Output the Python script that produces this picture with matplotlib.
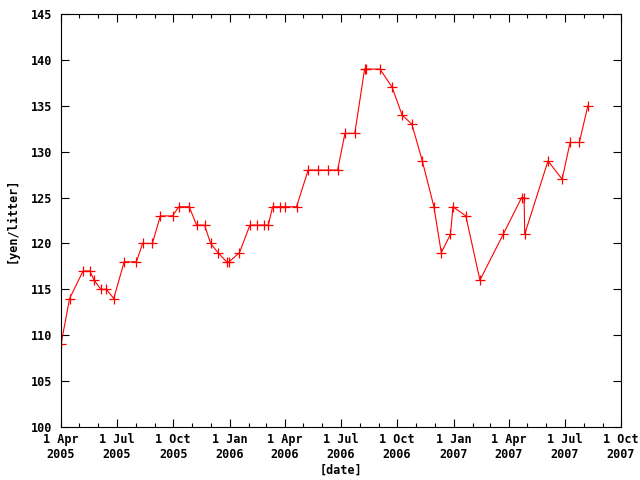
import matplotlib
matplotlib.use("Agg")
import matplotlib.pyplot as plt
import matplotlib.dates as mdates
import numpy as np
import datetime as dt

# gasoline price samples
dates = [
    "2005-04-01", "2005-04-15", "2005-05-07", "2005-05-18", "2005-05-25",
    "2005-06-05", "2005-06-14", "2005-06-26", "2005-07-13", "2005-08-02",
    "2005-08-12", "2005-08-28", "2005-09-10", "2005-09-30", "2005-10-10",
    "2005-10-27", "2005-11-08", "2005-11-21", "2005-12-01", "2005-12-13",
    "2005-12-27", "2005-12-31", "2006-01-17", "2006-02-03", "2006-02-15",
    "2006-02-26", "2006-03-05", "2006-03-12", "2006-03-24", "2006-04-02",
    "2006-04-20", "2006-05-09", "2006-05-25", "2006-06-11", "2006-06-26",
    "2006-07-08", "2006-07-24", "2006-08-09", "2006-08-11", "2006-09-03",
    "2006-09-23", "2006-10-09", "2006-10-25", "2006-11-11", "2006-11-30",
    "2006-12-12", "2006-12-27", "2006-12-31", "2007-01-21", "2007-02-13",
    "2007-03-23", "2007-04-22", "2007-04-26", "2007-04-27", "2007-06-04",
    "2007-06-27", "2007-07-10", "2007-07-25", "2007-08-08",
]
prices = [
    109, 114, 117, 117, 116,
    115, 115, 114, 118, 118,
    120, 120, 123, 123, 124,
    124, 122, 122, 120, 119,
    118, 118, 119, 122, 122,
    122, 122, 124, 124, 124,
    124, 128, 128, 128, 128,
    132, 132, 139, 139, 139,
    137, 134, 133, 129, 124,
    119, 121, 124, 123, 116,
    121, 125, 125, 121, 129,
    127, 131, 131, 135,
]

x = [dt.datetime.strptime(d, "%Y-%m-%d") for d in dates]

plt.rcParams['font.family'] = ['DejaVu Sans Mono']
plt.rcParams['font.weight'] = 'bold'
plt.rcParams['font.size'] = 8.5

fig = plt.figure(figsize=(6.4, 4.8), dpi=100)
ax = fig.add_axes([61 / 640, 1 - 427 / 480, 560 / 640, 413 / 480])

ax.plot(x, prices, color='red', linewidth=0.8, marker='+',
        markersize=7, markeredgewidth=0.9)

ax.set_xlim(dt.datetime(2005, 4, 1), dt.datetime(2007, 10, 1))
ax.set_ylim(100, 145)
ax.set_yticks(np.arange(100, 146, 5))

ax.xaxis.set_major_locator(mdates.MonthLocator(bymonth=[1, 4, 7, 10]))
ax.xaxis.set_minor_locator(mdates.MonthLocator())
ax.xaxis.set_major_formatter(
    plt.FuncFormatter(lambda v, p: mdates.num2date(v).strftime("%-d %b\n%Y")))

ax.tick_params(which='both', direction='in', top=True, right=True,
               color='black', width=0.8, labelsize=8.5)
ax.tick_params(which='major', length=6)
ax.tick_params(which='minor', length=3)
ax.tick_params(axis='x', which='major', pad=4)
ax.tick_params(axis='y', which='major', pad=6)

for s in ax.spines.values():
    s.set_linewidth(0.8)

ax.set_xlabel('[date]', fontweight='bold', labelpad=2)
ax.set_ylabel('[yen/litter]', fontweight='bold', labelpad=9)

fig.savefig("out.png", dpi=100)
